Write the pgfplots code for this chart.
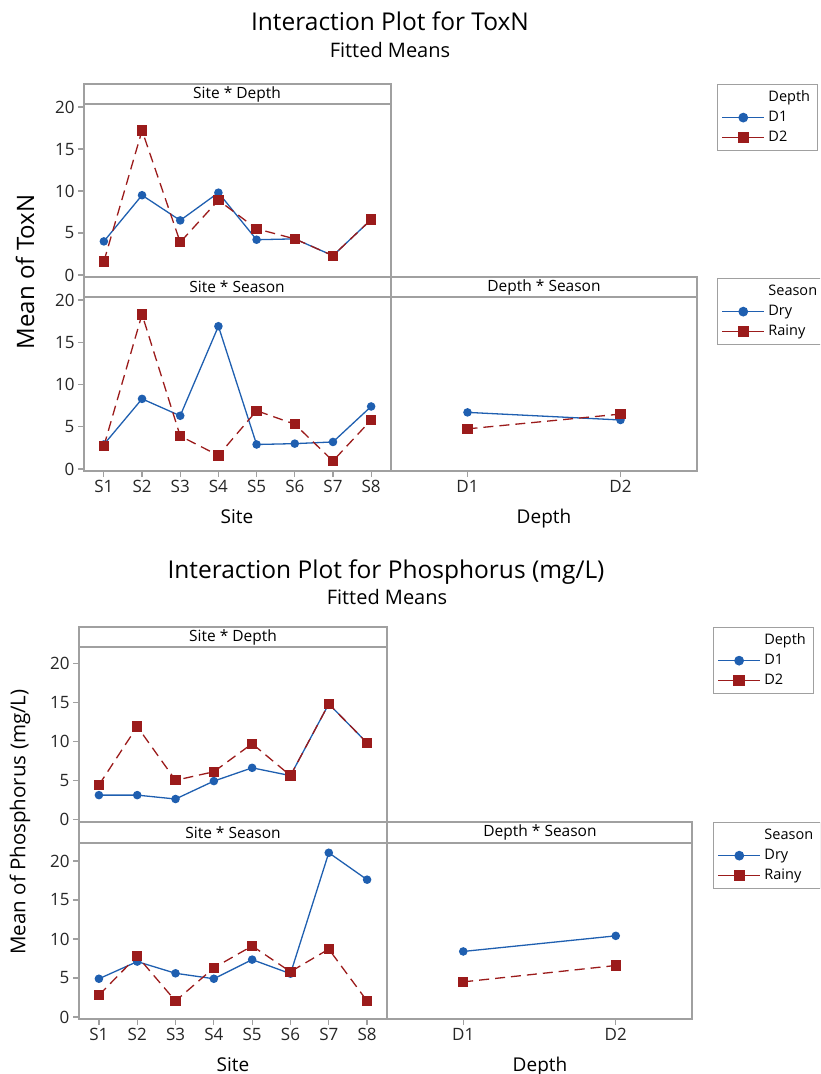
\documentclass[border=0pt]{standalone}
\usepackage{fontspec}
\setmainfont{Open Sans}
\usepackage{pgfplots}
\pgfplotsset{compat=1.18}
\definecolor{mblue}{HTML}{1F5FB0}
\definecolor{mred}{HTML}{9B1B1B}
\definecolor{frame}{HTML}{A0A0A0}
\newcommand\fs[1]{\fontsize{#1}{#1}\selectfont}

\pgfplotsset{
  mtb/.style={scale only axis, clip=false,
    axis line style={draw=frame, line width=1.3pt},
    tick style={draw=frame, line width=1.2pt}, tick align=outside,
    major tick length=6pt, xtick pos=left, ytick pos=left,
    /pgf/number format/assume math mode=true,
    tick label style={font=\fs{17}, text=black!85},
    ytick={0,5,10,15,20}},
  dry/.style={mblue, line width=1.3pt, mark=*, mark size=3.6pt},
  rainy/.style={mred, line width=1.3pt, dash pattern=on 10pt off 6pt,
    mark=square*, mark size=4.5pt, mark options={solid}},
  site/.style={xmin=0.48, xmax=8.52, xtick={1,...,8},
    xticklabels={S1,S2,S3,S4,S5,S6,S7,S8}},
  depth/.style={xmin=0.5, xmax=2.5, xtick={1,2}, xticklabels={D1,D2}},
  leg/.style={legend style={draw=frame, line width=1.2pt, font=\fs{14.5},
    anchor=north west, legend cell align=left, inner xsep=4pt, inner ysep=3pt,
    row sep=0pt, nodes={text height=11pt, text depth=4pt, inner ysep=2.5pt, inner xsep=3.5pt}},
    legend image code/.code={\draw[mark repeat=2,mark phase=2,##1,solid]
      plot coordinates {(0pt,0pt) (21pt,0pt) (42pt,0pt)};}},
  ldry/.style={dry, mark size=4.2pt},
  lrainy/.style={rainy, mark size=5pt},
}

\begin{document}
\begin{tikzpicture}
\path[use as bounding box] (0pt,0pt) rectangle (820pt,-1074pt);
\clip (0pt,0pt) rectangle (820pt,-1074pt);

% ---------------- ToxN ----------------
\node[font=\fs{24.5}, anchor=base] at (390pt,-30pt) {Interaction Plot for ToxN};
\node[font=\fs{20}, anchor=base] at (390pt,-57pt) {Fitted Means};
\node[font=\fs{24}, rotate=90] at (25pt,-272pt) {Mean of ToxN};
\node[font=\fs{19}, anchor=base] at (237pt,-523pt) {Site};
\node[font=\fs{19}, anchor=base] at (544pt,-523pt) {Depth};

\begin{axis}[mtb, site, xtick=\empty, at={(84pt,-104pt)}, anchor=north west,
  width=307pt, height=173pt, ymin=-0.24, ymax=20.36,
  leg, legend style={at={(2.062,1.1156)}}]
\addplot[dry, forget plot] coordinates {(1,4.0) (2,9.5) (3,6.5) (4,9.8) (5,4.2) (6,4.3) (7,2.3) (8,6.6)};
\addplot[rainy, forget plot] coordinates {(1,1.6) (2,17.2) (3,3.9) (4,8.9) (5,5.5) (6,4.3) (7,2.3) (8,6.6)};
\addlegendimage{empty legend}\addlegendentry{Depth}
\addlegendimage{ldry}\addlegendentry{D1}
\addlegendimage{lrainy}\addlegendentry{D2}
\end{axis}

\begin{axis}[mtb, site, at={(84pt,-297pt)}, anchor=north west,
  width=307pt, height=174pt, ymin=-0.24, ymax=20.36]
\addplot[dry] coordinates {(1,2.9) (2,8.3) (3,6.3) (4,16.9) (5,2.9) (6,3.0) (7,3.2) (8,7.4)};
\addplot[rainy] coordinates {(1,2.7) (2,18.3) (3,3.9) (4,1.6) (5,6.9) (6,5.3) (7,0.95) (8,5.8)};
\end{axis}

\begin{axis}[mtb, depth, ytick=\empty, at={(391pt,-297pt)}, anchor=north west,
  width=306pt, height=174pt, ymin=-0.24, ymax=20.36,
  leg, legend style={at={(1.0654,1.109)}}]
\addplot[dry, forget plot] coordinates {(1,6.7) (2,5.8)};
\addplot[rainy, forget plot] coordinates {(1,4.75) (2,6.5)};
\addlegendimage{empty legend}\addlegendentry{Season}
\addlegendimage{ldry}\addlegendentry{Dry}
\addlegendimage{lrainy}\addlegendentry{Rainy}
\end{axis}

\draw[frame, line width=1.3pt] (84pt,-84pt) rectangle (391pt,-104pt);
\draw[frame, line width=1.3pt] (84pt,-277pt) rectangle (391pt,-297pt);
\draw[frame, line width=1.3pt] (391pt,-277pt) rectangle (697pt,-297pt);
\node[font=\fs{15.5}] at (237pt,-94pt) {Site * Depth};
\node[font=\fs{15.5}] at (237pt,-287pt) {Site * Season};
\node[font=\fs{15.5}] at (544pt,-287pt) {Depth * Season};

% ---------------- Phosphorus ----------------
\node[font=\fs{24.5}, anchor=base] at (386pt,-578pt) {Interaction Plot for Phosphorus (mg/L)};
\node[font=\fs{20}, anchor=base] at (387pt,-604pt) {Fitted Means};
\node[font=\fs{20.5}, rotate=90] at (20pt,-822pt) {Mean of Phosphorus (mg/L)};
\node[font=\fs{19}, anchor=base] at (233pt,-1071pt) {Site};
\node[font=\fs{19}, anchor=base] at (540pt,-1071pt) {Depth};

\begin{axis}[mtb, site, xtick=\empty, at={(79pt,-647pt)}, anchor=north west,
  width=308pt, height=175pt, ymin=-0.35, ymax=22.1,
  leg, legend style={at={(2.058,1.114)}}]
\addplot[dry, forget plot] coordinates {(1,3.1) (2,3.1) (3,2.6) (4,4.9) (5,6.6) (6,5.6) (7,14.8) (8,9.8)};
\addplot[rainy, forget plot] coordinates {(1,4.4) (2,11.9) (3,5.0) (4,6.1) (5,9.7) (6,5.6) (7,14.8) (8,9.8)};
\addlegendimage{empty legend}\addlegendentry{Depth}
\addlegendimage{ldry}\addlegendentry{D1}
\addlegendimage{lrainy}\addlegendentry{D2}
\end{axis}

\begin{axis}[mtb, site, at={(79pt,-843pt)}, anchor=north west,
  width=308pt, height=176pt, ymin=-0.26, ymax=22.3]
\addplot[dry] coordinates {(1,4.9) (2,7.1) (3,5.6) (4,4.9) (5,7.35) (6,5.55) (7,21.05) (8,17.6)};
\addplot[rainy] coordinates {(1,2.8) (2,7.8) (3,2.05) (4,6.3) (5,9.1) (6,5.8) (7,8.7) (8,2.05)};
\end{axis}

\begin{axis}[mtb, depth, ytick=\empty, at={(387pt,-843pt)}, anchor=north west,
  width=305pt, height=176pt, ymin=-0.26, ymax=22.3,
  leg, legend style={at={(1.069,1.119)}}]
\addplot[dry, forget plot] coordinates {(1,8.4) (2,10.4)};
\addplot[rainy, forget plot] coordinates {(1,4.5) (2,6.6)};
\addlegendimage{empty legend}\addlegendentry{Season}
\addlegendimage{ldry}\addlegendentry{Dry}
\addlegendimage{lrainy}\addlegendentry{Rainy}
\end{axis}

\draw[frame, line width=1.3pt] (79pt,-627pt) rectangle (387pt,-647pt);
\draw[frame, line width=1.3pt] (79pt,-822pt) rectangle (387pt,-843pt);
\draw[frame, line width=1.3pt] (387pt,-822pt) rectangle (692pt,-843pt);
\node[font=\fs{15.5}] at (233pt,-637pt) {Site * Depth};
\node[font=\fs{15.5}] at (233pt,-832.5pt) {Site * Season};
\node[font=\fs{15.5}] at (540pt,-832.5pt) {Depth * Season};
\end{tikzpicture}
\end{document}
